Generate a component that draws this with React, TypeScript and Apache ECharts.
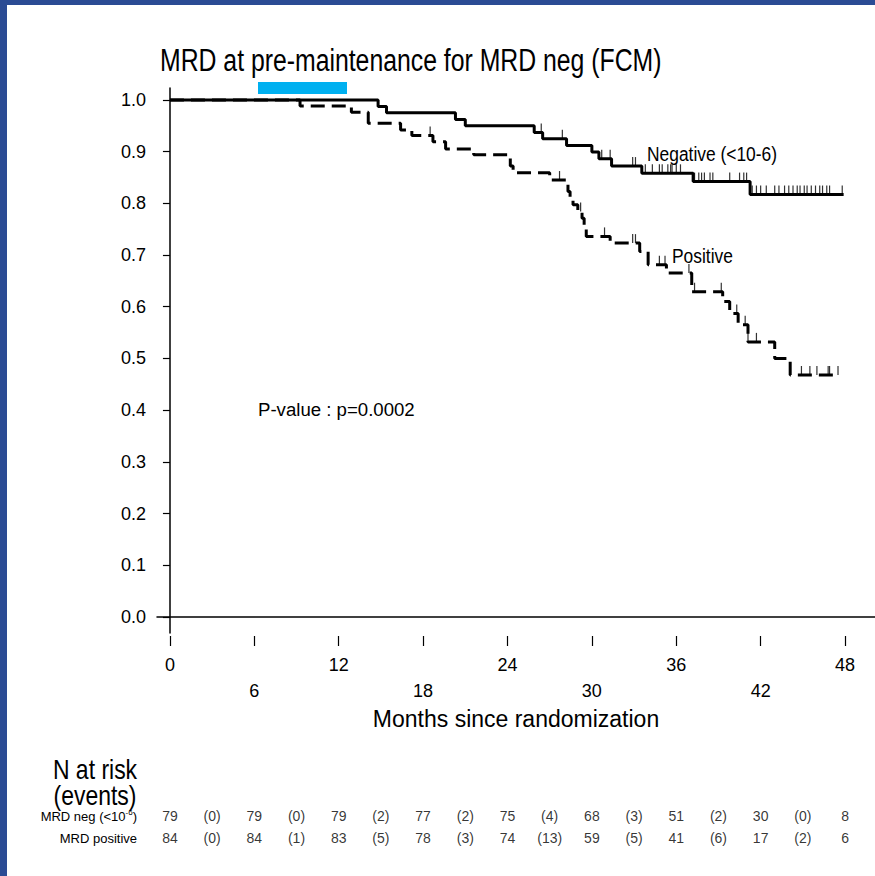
import React, { useEffect, useRef } from 'react';
import * as echarts from 'echarts';

// Kaplan-Meier steps (time in months, survival after the event)
const negTimes = [0, 14.8, 15.4, 20.3, 21.0, 25.9, 26.5, 28.2, 30.0, 30.5, 31.4, 33.55, 37.2, 41.25, 47.9];
const negSurv = [1.0, 0.987, 0.975, 0.962, 0.95, 0.937, 0.925, 0.912, 0.899, 0.886, 0.872, 0.858, 0.842, 0.817, 0.817];
const negCensor = [26.4, 27.9, 30.7, 31.3, 32.9, 33.1, 33.8, 34.3, 34.8, 35.0, 35.4, 35.6, 35.7, 36.0, 36.3, 37.3, 37.6, 37.8, 38.0, 38.4, 38.6, 39.8, 40.5, 40.8, 41.0, 41.4, 41.7, 42.0, 42.4, 43.0, 43.3, 43.7, 44.0, 44.3, 44.6, 44.8, 45.1, 45.3, 45.6, 45.9, 46.2, 46.4, 46.7, 46.9, 47.8];

const posTimes = [0, 9.25, 12.9, 14.1, 16.4, 17.2, 18.7, 19.6, 21.6, 24.2, 24.4, 27.0, 28.3, 28.45, 28.66, 29.0, 29.3, 29.45, 29.6, 31.3, 33.4, 34.0, 35.3, 37.1, 39.3, 39.8, 40.4, 41.1, 43.0, 44.1, 47.5];
const posSurv = [1.0, 0.988, 0.976, 0.955, 0.942, 0.931, 0.919, 0.905, 0.894, 0.872, 0.859, 0.845, 0.823, 0.81, 0.797, 0.784, 0.771, 0.758, 0.736, 0.723, 0.707, 0.681, 0.665, 0.629, 0.61, 0.587, 0.565, 0.532, 0.5, 0.468, 0.468];
const posCensor = [18.5, 27.7, 29.2, 30.9, 32.9, 33.1, 34.8, 35.2, 36.9, 37.3, 39.2, 40.3, 40.9, 41.1, 41.7, 44.9, 45.5, 46.0, 46.8, 46.9, 47.5];

const xTicks = [0, 6, 12, 18, 24, 30, 36, 42, 48];
const xLabelsTop = [0, 12, 24, 36, 48];
const xLabelsBottom = [6, 18, 30, 42];
const yTicks = [0, 0.1, 0.2, 0.3, 0.4, 0.5, 0.6, 0.7, 0.8, 0.9, 1.0];

const riskMonths = [0, 3, 6, 9, 12, 15, 18, 21, 24, 27, 30, 33, 36, 39, 42, 45, 48];
const riskNeg = ['79', '(0)', '79', '(0)', '79', '(2)', '77', '(2)', '75', '(4)', '68', '(3)', '51', '(2)', '30', '(0)', '8'];
const riskPos = ['84', '(0)', '84', '(1)', '83', '(5)', '78', '(3)', '74', '(13)', '59', '(5)', '41', '(6)', '17', '(2)', '6'];

const FONT = '"Liberation Sans Narrow", "Arial Narrow", "Liberation Sans", Arial, sans-serif';

function survAt(times: number[], surv: number[], t: number): number {
  let v = surv[0];
  for (let i = 0; i < times.length; i++) {
    if (times[i] <= t) v = surv[i];
  }
  return v;
}

export default function App() {
  const ref = useRef<HTMLDivElement>(null);
  useEffect(() => {
    if (!ref.current) return;
    const chart = echarts.init(ref.current, null, { renderer: 'svg' });
    const xMin = -0.92;
    const xMax = 50.13;
    const tickSym = { symbol: 'rect', symbolSize: [1.2, 9], symbolOffset: [0, -4.5] };
    chart.setOption({
      animation: false,
      backgroundColor: '#ffffff',
      grid: [
        { left: 157, right: 0, top: 88, height: 545 },
        { left: 157, right: 0, top: 805, height: 44 },
      ],
      xAxis: [
        {
          type: 'value', gridIndex: 0, min: xMin, max: xMax,
          axisLine: { show: true, lineStyle: { color: '#000', width: 1.5 } },
          axisTick: { show: false }, axisLabel: { show: false }, splitLine: { show: false },
        },
        {
          type: 'value', gridIndex: 0, min: xMin, max: xMax, position: 'bottom', offset: 3,
          axisLine: { show: false },
          axisTick: { show: true, customValues: xTicks, length: 10, lineStyle: { color: '#000', width: 1.2 } },
          axisLabel: { show: true, customValues: xLabelsTop, margin: 20, fontFamily: FONT, fontSize: 18, color: '#000' },
          splitLine: { show: false },
          name: 'Months since randomization', nameLocation: 'middle', nameGap: 71,
          nameTextStyle: { fontFamily: FONT, fontSize: 23, color: '#000' },
        },
        {
          type: 'value', gridIndex: 0, min: xMin, max: xMax, position: 'bottom', offset: 3,
          axisLine: { show: false }, axisTick: { show: false },
          axisLabel: { show: true, customValues: xLabelsBottom, margin: 46, fontFamily: FONT, fontSize: 18, color: '#000' },
          splitLine: { show: false },
        },
        {
          type: 'value', gridIndex: 1, min: xMin, max: xMax, show: false,
        },
      ],
      yAxis: [
        {
          type: 'value', gridIndex: 0, min: -0.031, max: 1.023,
          axisLine: { show: true, lineStyle: { color: '#000', width: 1.5 } },
          axisTick: { show: true, customValues: yTicks, length: 7, lineStyle: { color: '#000', width: 1.2 } },
          axisLabel: {
            show: true, customValues: yTicks, margin: 11, fontFamily: FONT, fontSize: 18, color: '#000',
            formatter: (v: number) => v.toFixed(1),
          },
          splitLine: { show: false },
        },
        {
          type: 'category', gridIndex: 1, data: ['pos', 'neg'],
          axisLine: { show: false }, axisTick: { show: false }, splitLine: { show: false },
          axisLabel: {
            show: true, margin: 20, fontFamily: FONT, fontSize: 13, color: '#000',
            formatter: (v: string) => (v === 'neg' ? 'MRD neg (<10{sup|-6})' : 'MRD positive'),
            rich: {
              sup: { fontFamily: FONT, fontSize: 8, color: '#000', padding: [0, 0, 8, 0] },
            },
          },
        },
      ],
      series: [
        {
          name: 'Negative', type: 'line', xAxisIndex: 0, yAxisIndex: 0, step: 'end', symbol: 'none',
          data: negTimes.map((t, i) => [t, negSurv[i]]),
          lineStyle: { color: '#000', width: 3, type: 'solid' },
        },
        {
          name: 'Positive', type: 'line', xAxisIndex: 0, yAxisIndex: 0, step: 'end', symbol: 'none',
          data: posTimes.map((t, i) => [t, posSurv[i]]),
          lineStyle: { color: '#000', width: 3, type: [14, 7] },
        },
        {
          name: 'Negative censored', type: 'scatter', xAxisIndex: 0, yAxisIndex: 0, ...tickSym,
          data: negCensor.map((t) => [t, survAt(negTimes, negSurv, t)]),
          itemStyle: { color: '#000' },
        },
        {
          name: 'Positive censored', type: 'scatter', xAxisIndex: 0, yAxisIndex: 0, ...tickSym,
          data: posCensor.map((t) => [t, survAt(posTimes, posSurv, t)]),
          itemStyle: { color: '#000' },
        },
        {
          name: 'Risk neg', type: 'scatter', xAxisIndex: 3, yAxisIndex: 1, symbolSize: 1,
          itemStyle: { color: 'rgba(0,0,0,0)' },
          data: riskMonths.map((m, i) => [m, 'neg', riskNeg[i]]),
          label: { show: true, position: 'inside', formatter: (p: any) => p.data[2], fontFamily: FONT, fontSize: 14, color: '#000' },
        },
        {
          name: 'Risk pos', type: 'scatter', xAxisIndex: 3, yAxisIndex: 1, symbolSize: 1,
          itemStyle: { color: 'rgba(0,0,0,0)' },
          data: riskMonths.map((m, i) => [m, 'pos', riskPos[i]]),
          label: { show: true, position: 'inside', formatter: (p: any) => p.data[2], fontFamily: FONT, fontSize: 14, color: '#000' },
        },
      ],
      graphic: [
        { type: 'rect', left: 0, top: 0, shape: { width: 7, height: 876 }, style: { fill: '#2B4B94' } },
        { type: 'rect', left: 0, top: 0, shape: { width: 875, height: 5 }, style: { fill: '#2B4B94' } },
        { type: 'rect', left: 258, top: 82, shape: { width: 89, height: 12 }, style: { fill: '#00B0F0' } },
        { type: 'text', x: 160, y: 45, scaleX: 0.8, style: { text: 'MRD at pre-maintenance for MRD neg (FCM)', fontFamily: FONT, fontSize: 31, fill: '#000' } },
        { type: 'text', x: 647, y: 144, scaleX: 0.87, style: { text: 'Negative (<10-6)', fontFamily: FONT, fontSize: 20, fill: '#000' } },
        { type: 'text', x: 672, y: 246, scaleX: 0.87, style: { text: 'Positive', fontFamily: FONT, fontSize: 20, fill: '#000' } },
        { type: 'text', x: 258, y: 400, scaleX: 0.98, style: { text: 'P-value : p=0.0002', fontFamily: FONT, fontSize: 19, fill: '#000' } },
        { type: 'text', x: 95, y: 769, scaleX: 0.82, style: { text: 'N at risk', fontFamily: FONT, fontSize: 28, fill: '#000', align: 'center', verticalAlign: 'middle' } },
        { type: 'text', x: 95, y: 795, scaleX: 0.82, style: { text: '(events)', fontFamily: FONT, fontSize: 28, fill: '#000', align: 'center', verticalAlign: 'middle' } },
      ],
    });
    return () => chart.dispose();
  }, []);
  return <div ref={ref} style={{ position: 'absolute', left: 0, top: 0, width: 875, height: 876 }} />;
}
